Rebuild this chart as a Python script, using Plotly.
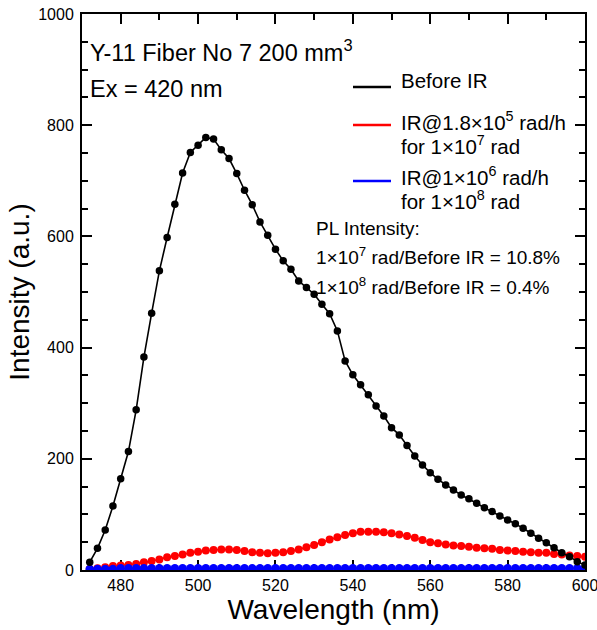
import plotly.graph_objects as go

# ---------------- data ----------------
wavelength = [472, 474, 476, 478, 480, 482, 484, 486, 488, 490, 492, 494, 496, 498,
              500, 502, 504, 506, 508, 510, 512, 514, 516, 518, 520, 522, 524, 526,
              528, 530, 532, 534, 536, 538, 540, 542, 544, 546, 548, 550, 552, 554,
              556, 558, 560, 562, 564, 566, 568, 570, 572, 574, 576, 578, 580, 582,
              584, 586, 588, 590, 592, 594, 596, 598, 600]

before_ir = [14, 39, 72, 115, 164, 213, 288, 383, 462, 538, 598, 658, 714, 751,
             764, 778, 775, 756, 740, 713, 683, 657, 626, 602, 577, 556, 541, 520,
             508, 496, 478, 461, 430, 376, 351, 333, 315, 295, 277, 256, 243, 224,
             205, 189, 175, 163, 153, 144, 135, 128, 120, 112, 105, 97, 90, 83,
             75, 66, 57, 49, 40, 31, 24, 15, 9]

ir_1e7 = [2, 3, 5, 7, 8, 9, 11, 14, 16, 19, 23, 25, 28, 31,
          33, 35, 36, 37, 37, 36, 34, 32, 31, 30, 31, 32, 34, 37,
          41, 45, 50, 55, 59, 63, 66, 69, 69, 69, 68, 66, 64, 61,
          58, 54, 50, 48, 46, 44, 43, 42, 40, 39, 38, 36, 35, 34,
          33, 32, 31, 31, 29, 28, 26, 25, 24]

ir_1e8 = [2, 2, 2, 2, 3, 3, 3, 3, 3, 3, 3, 3, 3, 3,
          3, 3, 3, 3, 3, 3, 3, 3, 3, 3, 3, 3, 3, 3,
          3, 3, 3, 3, 3, 3, 3, 3, 3, 3, 3, 3, 3, 3,
          3, 3, 3, 3, 3, 3, 3, 3, 3, 3, 3, 3, 3, 3,
          3, 3, 3, 3, 3, 3, 3, 3, 3]

series_names = ["Before IR",
                "IR@1.8×10<sup>5</sup> rad/h",
                "IR@1×10<sup>6</sup> rad/h"]
series_sub = ["", "for 1×10<sup>7</sup> rad", "for 1×10<sup>8</sup> rad"]
series_colors = ["#000000", "#ff0000", "#0000ff"]

x_range = [470, 600]
y_range = [0, 1000]

FONT = "Arial, 'Liberation Sans', sans-serif"

# ---------------- figure ----------------
fig = go.Figure()

fig.add_trace(go.Scatter(x=wavelength, y=ir_1e7, mode="lines+markers",
                         line=dict(color=series_colors[1], width=1.5),
                         marker=dict(color=series_colors[1], size=8),
                         showlegend=False))
fig.add_trace(go.Scatter(x=wavelength, y=ir_1e8, mode="lines+markers",
                         line=dict(color=series_colors[2], width=1.5),
                         marker=dict(color=series_colors[2], size=8.5),
                         showlegend=False))
fig.add_trace(go.Scatter(x=wavelength, y=before_ir, mode="lines+markers",
                         line=dict(color=series_colors[0], width=1.6),
                         marker=dict(color=series_colors[0], size=7.5),
                         showlegend=False))

L, R, T, B = 82, 12, 14, 60
W, H = 597, 630
PW, PH = W - L - R, H - T - B


def px(x):
    return (x - L) / PW


def py(y):
    return (T + PH - y) / PH


axis_common = dict(
    showline=True, linewidth=2, linecolor="black", mirror="ticks",
    ticks="inside", ticklen=10, tickwidth=2, tickcolor="black",
    showgrid=False, zeroline=False, layer="below traces", automargin=False,
    ticklabeloverflow="allow",
    tickfont=dict(family=FONT, size=16, color="black"),
)

fig.update_xaxes(range=x_range, dtick=20, tick0=0,
                 minor=dict(dtick=10, ticks="inside", ticklen=6, tickwidth=1.5, tickcolor="black"),
                 title=dict(text="Wavelength (nm)", font=dict(family=FONT, size=28, color="black"), standoff=1),
                 **axis_common)
fig.update_yaxes(range=y_range, dtick=200, tick0=0, ticklabelstandoff=3,
                 minor=dict(dtick=50, ticks="inside", ticklen=6, tickwidth=1.5, tickcolor="black"),
                 title=dict(text="Intensity (a.u.)", font=dict(family=FONT, size=28, color="black"), standoff=0),
                 **axis_common)

annotations = []


def add_text(text, x, y, size):
    annotations.append(dict(text=text, x=px(x), y=py(y), xref="paper", yref="paper",
                            xanchor="left", yanchor="middle", showarrow=False,
                            font=dict(family=FONT, size=size, color="black")))


add_text("Y-11 Fiber No 7 200 mm<sup>3</sup>", 88, 51, 23.5)
add_text("Ex = 420 nm", 88, 89, 23.5)

legend_line_y = [87, 125, 181]
legend_text_y = [80, 121, 176]
shapes = []
for name, sub, col, ly, ty in zip(series_names, series_sub, series_colors, legend_line_y, legend_text_y):
    shapes.append(dict(type="line", xref="paper", yref="paper",
                       x0=px(353), x1=px(391), y0=py(ly), y1=py(ly),
                       line=dict(color=col, width=2.5)))
    add_text(name, 399, ty, 20.5)
    if sub:
        add_text(sub, 399, ty + 24, 20.5)

add_text("PL Intensity:", 314, 228, 19)
add_text("1×10<sup>7</sup> rad/Before IR = 10.8%", 314, 256, 19)
add_text("1×10<sup>8</sup> rad/Before IR = 0.4%", 314, 286, 19)

fig.update_layout(
    width=W, height=H,
    margin=dict(l=L, r=R, t=T, b=B, pad=0),
    paper_bgcolor="white", plot_bgcolor="white",
    font=dict(family=FONT, color="black"),
    annotations=annotations, shapes=shapes,
    showlegend=False,
)

fig.write_html("out.html")
